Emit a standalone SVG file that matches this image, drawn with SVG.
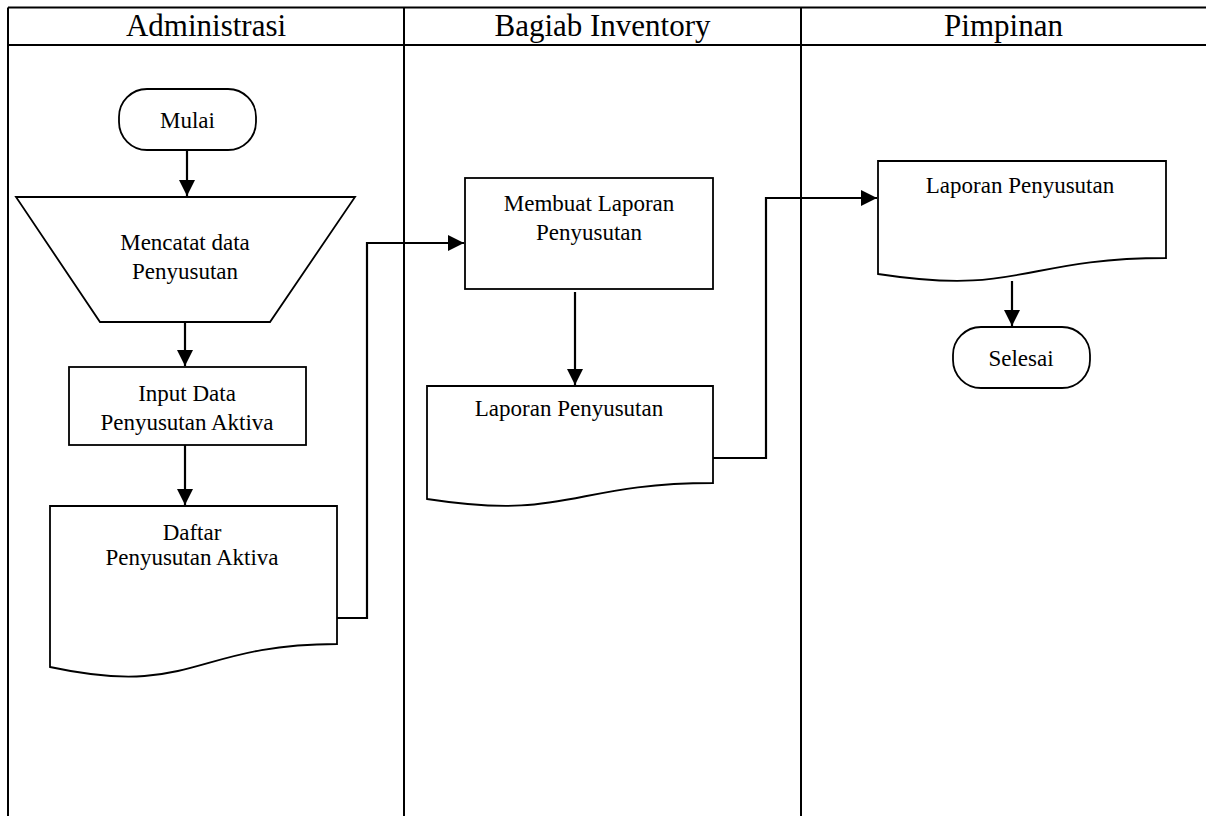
<svg xmlns="http://www.w3.org/2000/svg" width="1206" height="816" viewBox="0 0 1206 816">
<style>
.lane{stroke:#000;stroke-width:2;fill:none}
.shape{fill:#fff;stroke:#000;stroke-width:1.8}
.conn{fill:none;stroke:#000;stroke-width:2.2}
.hdr{font-family:"Liberation Serif","Times New Roman",serif;font-size:31px;fill:#000;text-anchor:middle}
.t{font-family:"Liberation Serif","Times New Roman",serif;font-size:23px;fill:#000;text-anchor:middle}
</style>
<defs>
<marker id="arr" viewBox="0 0 10 10" refX="10" refY="5" markerWidth="7.5" markerHeight="7.5" markerUnits="strokeWidth" orient="auto">
<path d="M0,0 L10,5 L0,10 z" fill="#000"/>
</marker>
</defs>
<rect width="1206" height="816" fill="#fff"/>
<g id="lanes">
<path class="lane" d="M8,7.5 H1206 M8,45 H1206 M8,7.5 V816 M404,7.5 V816 M801,7.5 V816"/>
<text class="hdr" x="206" y="36">Administrasi</text>
<text class="hdr" x="602.5" y="36">Bagiab Inventory</text>
<text class="hdr" x="1003.5" y="36">Pimpinan</text>
</g>
<g id="mulai">
<rect class="shape" x="119" y="89" width="137" height="61" rx="28"/>
<text class="t" x="187.5" y="128">Mulai</text>
</g>
<g id="mencatat">
<path class="shape" d="M16,197 H355 L270,322 H100 Z"/>
<text class="t" x="185" y="250">Mencatat data</text>
<text class="t" x="185" y="279">Penyusutan</text>
</g>
<g id="input">
<rect class="shape" x="69" y="367" width="237" height="78"/>
<text class="t" x="187" y="401">Input Data</text>
<text class="t" x="187" y="430">Penyusutan Aktiva</text>
</g>
<g id="daftar">
<path class="shape" d="M50,506 H337 V644 C193.5,644 193.5,698 50,667 Z"/>
<text class="t" x="192" y="540">Daftar</text>
<text class="t" x="192" y="565">Penyusutan Aktiva</text>
</g>
<g id="membuat">
<rect class="shape" x="465" y="178" width="248" height="111"/>
<text class="t" x="589" y="211">Membuat Laporan</text>
<text class="t" x="589" y="240">Penyusutan</text>
</g>
<g id="laporan1">
<path class="shape" d="M427,386 H713 V483 C570,483 570,521 427,499 Z"/>
<text class="t" x="569" y="416">Laporan Penyusutan</text>
</g>
<g id="laporan2">
<path class="shape" d="M878,161 H1166 V258 C1022,258 1022,296 878,274 Z"/>
<text class="t" x="1020" y="193">Laporan Penyusutan</text>
</g>
<g id="selesai">
<rect class="shape" x="953" y="327" width="137" height="61" rx="28"/>
<text class="t" x="1021" y="366">Selesai</text>
</g>
<g id="connectors">
<path class="conn" d="M187,150 V196" marker-end="url(#arr)"/>
<path class="conn" d="M185,322 V366" marker-end="url(#arr)"/>
<path class="conn" d="M185,445 V505" marker-end="url(#arr)"/>
<path class="conn" d="M337,618 H367 V243 H464" marker-end="url(#arr)"/>
<path class="conn" d="M575,292 V385" marker-end="url(#arr)"/>
<path class="conn" d="M713,458 H766 V198 H877" marker-end="url(#arr)"/>
<path class="conn" d="M1012,281 V326" marker-end="url(#arr)"/>
</g>
</svg>
